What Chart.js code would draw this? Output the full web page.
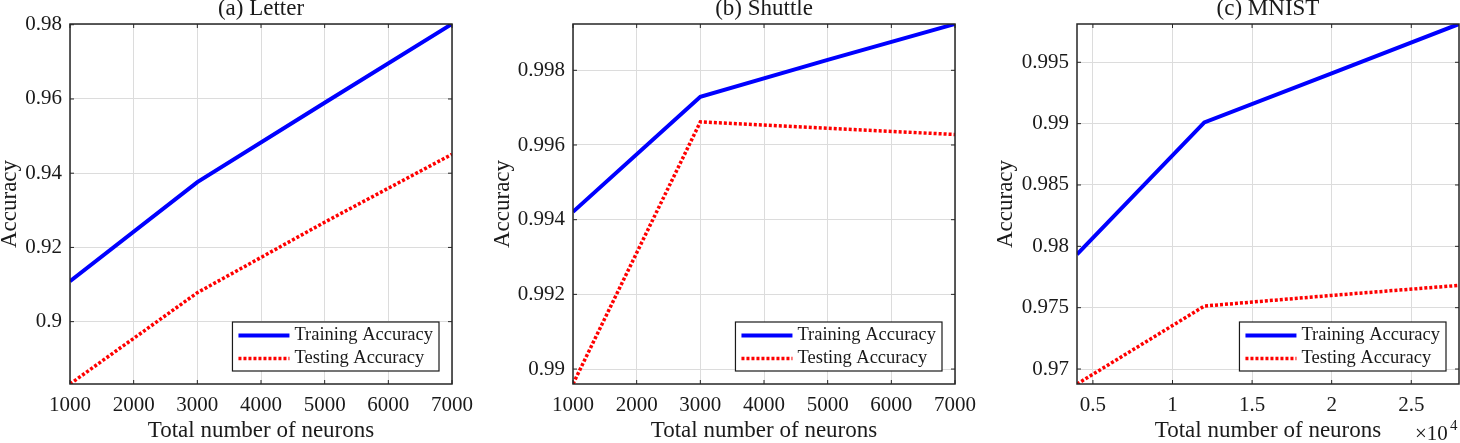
<!DOCTYPE html>
<html>
<head>
<meta charset="utf-8">
<script src="https://cdn.jsdelivr.net/npm/chart.js@4.4.1/dist/chart.umd.min.js"></script>
<style>
  body { margin: 0; background: #fff; }
  #wrap { position: relative; width: 1460px; height: 443px; overflow: hidden; }
  canvas { position: absolute; top: 0; }
</style>
</head>
<body>
<div id="wrap">
  <canvas id="letter" width="474" height="443" style="left:0px"></canvas>
  <canvas id="shuttle" width="484" height="443" style="left:493px"></canvas>
  <canvas id="mnist" width="464" height="443" style="left:996px"></canvas>
</div>
<script>
// values
const letterNeurons = [1000, 3000, 5000, 7000];
const letterTrain = [0.9109, 0.9376, 0.9590, 0.9802];
const letterTest = [0.8832, 0.9078, 0.9268, 0.9451];
const letterXTicks = [1000, 2000, 3000, 4000, 5000, 6000, 7000];
const letterYTicks = [0.90, 0.92, 0.94, 0.96, 0.98];

const shuttleNeurons = [1000, 3000, 5000, 7000];
const shuttleTrain = [0.99421, 0.99729, 0.99828, 0.99924];
const shuttleTest = [0.98960, 0.99662, 0.99645, 0.99628];
const shuttleXTicks = [1000, 2000, 3000, 4000, 5000, 6000, 7000];
const shuttleYTicks = [0.990, 0.992, 0.994, 0.996, 0.998];

const mnistNeurons = [4000, 12000, 20000, 28000];
const mnistTrain = [0.97935, 0.99010, 0.99410, 0.99812];
const mnistTest = [0.96878, 0.97513, 0.97600, 0.97682];
const mnistXTicks = [5000, 10000, 15000, 20000, 25000];
const mnistYTicks = [0.970, 0.975, 0.980, 0.985, 0.990, 0.995];

const FONT = "'Liberation Serif', 'Times New Roman', serif";
const INK = '#1a1a1a';

// box, inward ticks, legend and exponent label, matlab style
const matlabPlugin = {
    id: 'matlab',
    afterDatasetsDraw(chart, args, opts) {
        const ctx = chart.ctx;
        const a = chart.chartArea;
        const xs = chart.scales.x;
        const ys = chart.scales.y;
        const len = 4;
        ctx.save();
        ctx.strokeStyle = '#262626';
        ctx.lineWidth = 1;
        ctx.beginPath();
        xs.ticks.forEach(t => {
            let px = xs.getPixelForValue(t.value);
            ctx.moveTo(px, a.bottom); ctx.lineTo(px, a.bottom - len);
            ctx.moveTo(px, a.top); ctx.lineTo(px, a.top + len);
        });
        ys.ticks.forEach(t => {
            let py = ys.getPixelForValue(t.value);
            ctx.moveTo(a.left, py); ctx.lineTo(a.left + len, py);
            ctx.moveTo(a.right, py); ctx.lineTo(a.right - len, py);
        });
        ctx.stroke();
        ctx.lineWidth = 1.5;
        ctx.strokeRect(a.left, a.top, a.right - a.left, a.bottom - a.top);

        // legend in lower right corner
        ctx.font = '18.5px ' + FONT;
        const sets = chart.data.datasets;
        let tw = 0;
        sets.forEach(d => { tw = Math.max(tw, ctx.measureText(d.label).width); });
        const rowH = 23;
        const w = 6 + 51 + 5 + tw + 6;
        const h = sets.length * rowH + 3;
        const bx = a.right - 13 - w;
        const by = a.bottom - 13 - h;
        ctx.fillStyle = '#fff';
        ctx.fillRect(bx, by, w, h);
        ctx.strokeStyle = INK;
        ctx.lineWidth = 1.2;
        ctx.strokeRect(bx, by, w, h);
        sets.forEach((d, i) => {
            let cy = by + 2 + rowH * i + rowH / 2;
            ctx.beginPath();
            ctx.strokeStyle = d.borderColor;
            ctx.lineWidth = d.borderWidth;
            ctx.setLineDash(d.borderDash || []);
            ctx.moveTo(bx + 6, cy);
            ctx.lineTo(bx + 57, cy);
            ctx.stroke();
            ctx.setLineDash([]);
            ctx.fillStyle = INK;
            ctx.textBaseline = 'middle';
            ctx.textAlign = 'left';
            ctx.fillText(d.label, bx + 62, cy);
        });

        if (opts.exponent) {
            ctx.fillStyle = INK;
            ctx.textBaseline = 'alphabetic';
            ctx.textAlign = 'left';
            ctx.font = '21px ' + FONT;
            ctx.fillText('\u00d710', a.right - 44, 440);
            ctx.font = '15px ' + FONT;
            ctx.fillText(String(opts.exponent), a.right - 9, 430);
        }
        ctx.restore();
    }
};

function fmt(v) {
    return String(parseFloat(v.toFixed(4)));
}

function makeChart(id, title, xs, train, test, xTicks, yTicks, yWidth, padRight, xLabel, exponent) {
    const all = train.concat(test);
    new Chart(document.getElementById(id), {
        type: 'line',
        data: {
            datasets: [{
                label: 'Training Accuracy',
                data: xs.map((x, i) => ({x: x, y: train[i]})),
                borderColor: '#0000ff',
                borderWidth: 4,
                pointRadius: 0,
                tension: 0
            },
            {
                label: 'Testing Accuracy',
                data: xs.map((x, i) => ({x: x, y: test[i]})),
                borderColor: '#ff0000',
                borderWidth: 3.5,
                borderDash: [3, 2],
                pointRadius: 0,
                tension: 0
            }]
        },
        options: {
            responsive: false,
            animation: false,
            layout: { padding: { left: 0, right: padRight, top: 0, bottom: 0 } },
            plugins: {
                legend: { display: false },
                tooltip: { enabled: false },
                title: {
                    display: true,
                    text: title,
                    fullSize: false,
                    color: INK,
                    font: { family: FONT, size: 23, weight: 'normal' },
                    padding: { top: -5, bottom: 1.4 }
                },
                matlab: { exponent: exponent }
            },
            scales: {
                x: {
                    type: 'linear',
                    min: Math.min(...xs),
                    max: Math.max(...xs),
                    afterBuildTicks: s => { s.ticks = xTicks.map(v => ({value: v})); },
                    afterFit: s => { s.height = 59; s.paddingLeft = 0; s.paddingRight = 0; },
                    grid: { color: '#dcdcdc', drawTicks: false },
                    border: { display: false },
                    ticks: {
                        color: INK,
                        padding: 9,
                        maxRotation: 0,
                        autoSkip: false,
                        font: { family: FONT, size: 21 },
                        callback: xLabel
                    },
                    title: {
                        display: true,
                        text: 'Total number of neurons',
                        color: INK,
                        font: { family: FONT, size: 23 },
                        padding: { top: 0, bottom: -2 }
                    }
                },
                y: {
                    min: Math.min(...all),
                    max: Math.max(...all),
                    afterBuildTicks: s => { s.ticks = yTicks.map(v => ({value: v})); },
                    afterFit: s => { s.width = yWidth; s.paddingTop = 0; s.paddingBottom = 0; },
                    grid: { color: '#dcdcdc', drawTicks: false },
                    border: { display: false },
                    ticks: {
                        color: INK,
                        padding: 8,
                        autoSkip: false,
                        font: { family: FONT, size: 21 },
                        callback: v => fmt(v)
                    },
                    title: {
                        display: true,
                        text: 'Accuracy',
                        color: INK,
                        font: { family: FONT, size: 23 },
                        padding: { top: -4, bottom: 0 }
                    }
                }
            }
        },
        plugins: [matlabPlugin]
    });
}

makeChart('letter', '(a) Letter', letterNeurons, letterTrain, letterTest,
    letterXTicks, letterYTicks, 70, 22, v => String(v), 0);
makeChart('shuttle', '(b) Shuttle', shuttleNeurons, shuttleTrain, shuttleTest,
    shuttleXTicks, shuttleYTicks, 80, 22, v => String(v), 0);
makeChart('mnist', '(c) MNIST', mnistNeurons, mnistTrain, mnistTest,
    mnistXTicks, mnistYTicks, 81, 1, v => fmt(v / 10000), 4);
</script>
</body>
</html>
